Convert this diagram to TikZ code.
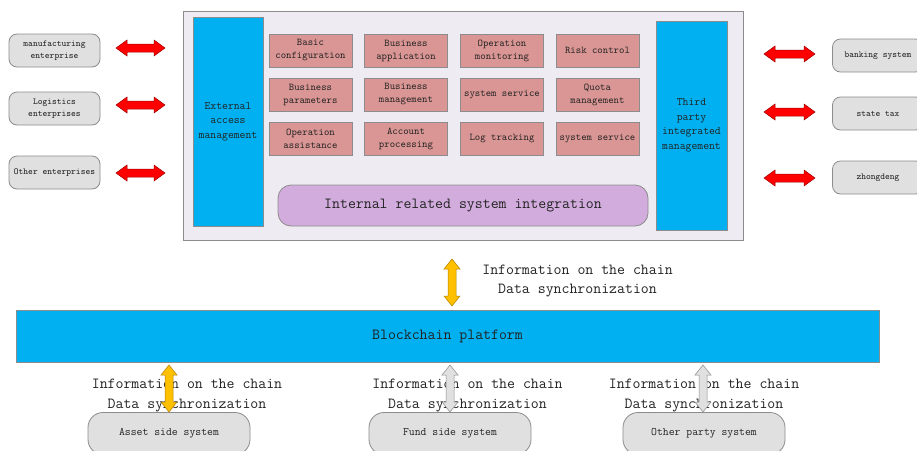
\documentclass[tikz,border=0pt]{standalone}
\renewcommand\familydefault{\ttdefault}
\definecolor{cyanbox}{HTML}{00B0F0}
\definecolor{pinkbox}{HTML}{DA9694}
\definecolor{purplebox}{HTML}{D3ACDE}
\definecolor{panel}{HTML}{EEECF2}
\definecolor{greybox}{HTML}{E0E0E0}
\definecolor{edge}{HTML}{8C8C8C}
\definecolor{gold}{HTML}{FFC000}
\definecolor{darkgold}{HTML}{B08000}
\definecolor{arrred}{HTML}{FF0000}
\definecolor{darkred}{HTML}{A00000}
\definecolor{txt}{HTML}{222222}
\newcommand\hdarrow[4]{%
 \draw[#4] ({#1-#3},#2) -- ({#1-#3+11},{#2-8}) -- ({#1-#3+11},{#2-4}) -- ({#1+#3-11},{#2-4}) -- ({#1+#3-11},{#2-8}) -- ({#1+#3},#2) -- ({#1+#3-11},{#2+8}) -- ({#1+#3-11},{#2+4}) -- ({#1-#3+11},{#2+4}) -- ({#1-#3+11},{#2+8}) -- cycle;}
\newcommand\vdarrow[4]{%
 \draw[#4] (#1,{#2-#3}) -- ({#1-8},{#2-#3+10}) -- ({#1-4},{#2-#3+10}) -- ({#1-4},{#2+#3-10}) -- ({#1-8},{#2+#3-10}) -- (#1,{#2+#3}) -- ({#1+8},{#2+#3-10}) -- ({#1+4},{#2+#3-10}) -- ({#1+4},{#2-#3+10}) -- ({#1+8},{#2-#3+10}) -- cycle;}
\begin{document}
\begin{tikzpicture}[x=1pt,y=-1pt,
  base/.style={draw=edge, line width=0.8pt, inner sep=1pt, align=center, text=txt},
  modbox/.style={base, fill=pinkbox, minimum width=83pt, minimum height=33pt, font=\fontsize{10.3}{13}\selectfont},
  sidebox/.style={base, fill=cyanbox, minimum width=70pt, minimum height=209pt, font=\fontsize{11.4}{14.5}\selectfont},
  extbox/.style={base, fill=greybox, rounded corners=8pt, minimum width=91pt, minimum height=33pt, font=\fontsize{9.1}{12}\selectfont},
  sysbox/.style={base, fill=greybox, rounded corners=15pt, minimum width=162pt, minimum height=42pt, font=\fontsize{11.4}{12}\selectfont},
  infolabel/.style={align=center, inner sep=0pt, font=\fontsize{15.4}{19.5}\selectfont, text=txt},
  redarr/.style={fill=arrred, draw=darkred, line width=0.5pt},
  goldarr/.style={fill=gold, draw=darkgold, line width=0.5pt},
  greyarr/.style={fill=greybox, draw=edge, line width=0.5pt}]
\useasboundingbox (0,0) rectangle (917,450);
\clip (0,0) rectangle (917,450);
\fill[white] (0,0) rectangle (917,450);
% main panel
\node[base, fill=panel, minimum width=560pt, minimum height=229pt] (panel) at (463,125.5) {};
\node[sidebox] (ext) at (228,121.5) {External\\access\\management};
\node[sidebox, minimum width=71pt] (third) at (691.5,125.5) {Third\\party\\integrated\\management};
% modules
\node[modbox] (m11) at (310.5,50.5) {Basic\\configuration};
\node[modbox] (m12) at (406,50.5) {Business\\application};
\node[modbox] (m13) at (502,50.5) {Operation\\monitoring};
\node[modbox] (m14) at (597.5,50.5) {Risk control};
\node[modbox] (m21) at (310.5,94.5) {Business\\parameters};
\node[modbox] (m22) at (406,94.5) {Business\\management};
\node[modbox] (m23) at (502,94.5) {system service};
\node[modbox] (m24) at (597.5,94.5) {Quota\\management};
\node[modbox] (m31) at (310.5,138.5) {Operation\\assistance};
\node[modbox] (m32) at (406,138.5) {Account\\processing};
\node[modbox] (m33) at (502,138.5) {Log tracking};
\node[modbox] (m34) at (597.5,138.5) {system service};
\node[base, fill=purplebox, rounded corners=13pt, minimum width=370pt, minimum height=41pt, font=\fontsize{15.4}{16}\selectfont] (internal) at (463,205.5) {Internal related system integration};
% left enterprises
\node[extbox] (manu) at (54.5,50.5) {manufacturing\\enterprise};
\node[extbox] (logi) at (54.5,108.5) {Logistics\\enterprises};
\node[extbox] (other) at (54.5,172.5) {Other enterprises};
\hdarrow{140.5}{48}{24.5}{redarr}
\hdarrow{140.5}{105}{24.5}{redarr}
\hdarrow{140.5}{173}{24.5}{redarr}
% right systems
\node[extbox] (bank) at (878,55.5) {banking system};
\node[extbox] (tax) at (878,113.5) {state tax};
\node[extbox] (zhong) at (878,177.5) {zhongdeng};
\hdarrow{789.5}{54}{25.5}{redarr}
\hdarrow{789.5}{112}{25.5}{redarr}
\hdarrow{789.5}{178}{25.5}{redarr}
% blockchain
\node[base, fill=cyanbox, minimum width=863pt, minimum height=52pt, font=\fontsize{15.4}{16}\selectfont] (chain) at (447.5,336) {Blockchain platform};
\vdarrow{452}{282.5}{23.5}{goldarr}
\node[infolabel] (toplabel) at (577.5,281) {Information on the chain\\Data synchronization};
% bottom systems
\node[sysbox] (asset) at (169,433.5) {Asset side system};
\node[sysbox] (fund) at (450,433.5) {Fund side system};
\node[sysbox] (otherp) at (704,433.5) {Other party system};
\node[infolabel] (lab1) at (187,395.5) {Information on the chain\\Data synchronization};
\node[infolabel] (lab2) at (467.5,395.5) {Information on the chain\\Data synchronization};
\node[infolabel] (lab3) at (704,395.5) {Information on the chain\\Data synchronization};
\vdarrow{169}{388.5}{23.5}{goldarr}
\vdarrow{450}{388.5}{23.5}{greyarr}
\vdarrow{703}{388.5}{23.5}{greyarr}
\end{tikzpicture}
\end{document}
